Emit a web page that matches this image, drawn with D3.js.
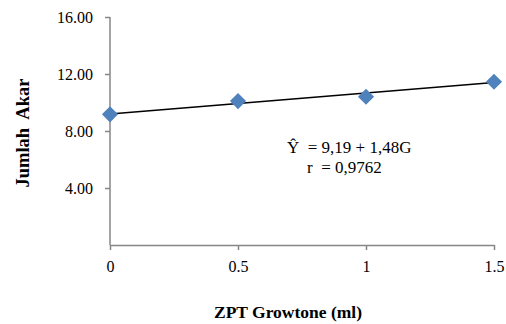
<!DOCTYPE html>
<html>
  <head>
    <script src="https://cdnjs.cloudflare.com/ajax/libs/d3/7.8.5/d3.min.js"></script>
    <style>
      body { margin: 0; background: #fff; }
      .axis path, .axis line { stroke: #868686; stroke-width: 1.5; }
    </style>
  </head>
  <body>
    <svg width="506" height="324"></svg>
    <script>
      // data
      var dosis = [0, 0.5, 1, 1.5];
      var jumlahAkar = [9.17, 10.1, 10.4, 11.46];
      var yTicks = [4, 8, 12, 16];
      var xTicks = [0, 0.5, 1, 1.5];
      var intercept = 9.19, slope = 1.48;

      var serif = "'Times New Roman', 'Liberation Serif', serif";
      var svg = d3.select("svg");
      var x = d3.scaleLinear().domain([0, 1.5]).range([110, 494]);
      var y = d3.scaleLinear().domain([0, 16]).range([245, 17]);

      svg.append("g")
        .attr("class", "axis")
        .attr("transform", "translate(110,0)")
        .call(d3.axisLeft(y).tickValues(yTicks).tickSize(5).tickSizeOuter(0)
          .tickPadding(12).tickFormat(d3.format(".2f")))
        .call(g => g.select(".domain").attr("d", "M0," + y(16) + "V" + y(0)))
        .attr("font-family", serif).attr("font-size", 16);

      svg.append("g")
        .attr("class", "axis")
        .attr("transform", "translate(0,245)")
        .call(d3.axisBottom(x).tickValues(xTicks).tickSize(5).tickSizeOuter(0)
          .tickPadding(11).tickFormat(d => d3.format("")(d)))
        .attr("font-family", serif).attr("font-size", 16);

      svg.selectAll(".axis text").attr("fill", "#000");

      // trend line
      svg.append("line")
        .attr("x1", x(0)).attr("y1", y(intercept))
        .attr("x2", x(1.5)).attr("y2", y(intercept + slope * 1.5))
        .attr("stroke", "#000").attr("stroke-width", 1.5);

      svg.selectAll("path.pt")
        .data(dosis)
        .enter()
        .append("path")
        .attr("class", "pt")
        .attr("d", d3.symbol(d3.symbolSquare, 130))
        .attr("transform", (d, i) => "translate(" + x(d) + "," + y(jumlahAkar[i]) + ") rotate(45)")
        .attr("fill", "#4f81bd");

      function label(t) {
        return svg.append("text")
          .attr("font-family", serif)
          .attr("font-size", 17)
          .style("white-space", "pre")
          .text(t);
      }

      label("Ŷ  = 9,19 + 1,48G").attr("x", 287).attr("y", 153);
      label("r  = 0,9762").attr("x", 307).attr("y", 173);

      label("ZPT Growtone (ml)")
        .attr("font-size", 17.5).attr("font-weight", "bold")
        .attr("x", 288).attr("y", 318)
        .attr("text-anchor", "middle");

      label("Jumlah  Akar")
        .attr("font-size", 18.5).attr("font-weight", "bold")
        .attr("transform", "translate(29,133) rotate(-90)")
        .attr("text-anchor", "middle");
    </script>
  </body>
</html>
